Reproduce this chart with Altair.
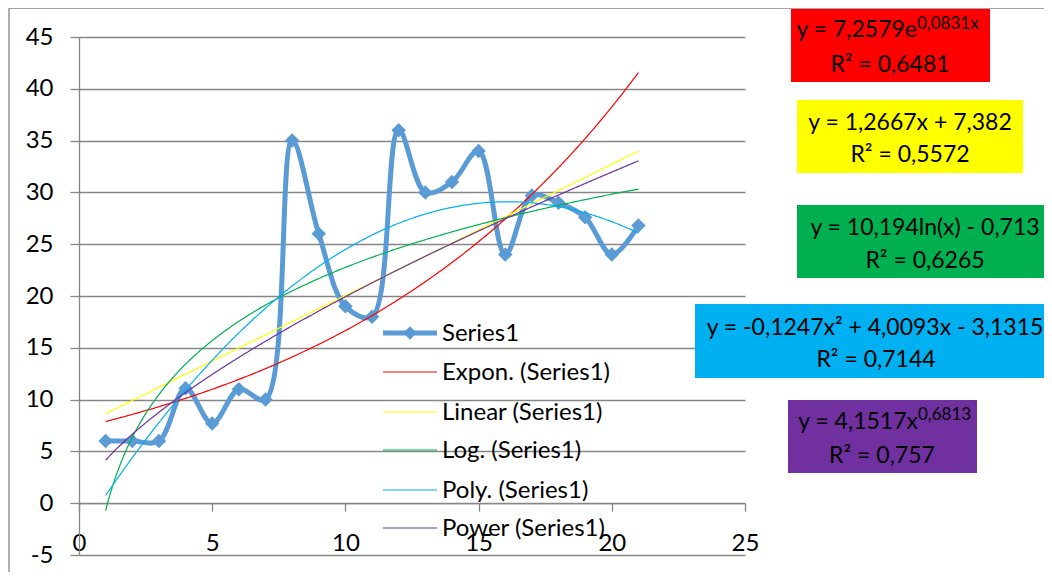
import altair as alt
import pandas as pd

# ---------------- data ----------------
X = list(range(1, 22))
Y = [6, 6, 6, 11.1, 7.7, 11, 10, 35, 26, 19, 18, 36, 30, 31, 34, 24, 29.7, 29, 27.6, 24, 26.8]
SERIES_NAME = "Series1"

TREND_NAMES = ["Expon. (Series1)", "Linear (Series1)", "Log. (Series1)", "Poly. (Series1)", "Power (Series1)"]
TREND_COLORS = ["#FF0000", "#FFFF00", "#00B050", "#00B0F0", "#7030A0"]
EXP_COEF = [7.2579, 0.0831]
LIN_COEF = [1.2667, 7.382]
LOG_COEF = [10.194, -0.713]
POLY_COEF = [-0.1247, 4.0093, -3.1315]
POW_COEF = [4.1517, 0.6813]

EQ_MAIN = ["y = 7,2579e", "y = 1,2667x + 7,382", "y = 10,194ln(x) - 0,713",
           "y = -0,1247x² + 4,0093x - 3,1315", "y = 4,1517x"]
EQ_SUP = ["0,0831x", "", "", "", "0,6813"]
EQ_R2 = ["R² = 0,6481", "R² = 0,5572", "R² = 0,6265", "R² = 0,7144", "R² = 0,757"]
BOX_COLORS = ["#FF0000", "#FFFF00", "#00B050", "#00B0F0", "#7030A0"]

X_TICKS = [0, 5, 10, 15, 20, 25]
Y_TICKS = [-5, 0, 5, 10, 15, 20, 25, 30, 35, 40, 45]

# ---------------- layout (pixels, relative to plot area) ----------------
W, H = 666, 518
FONT = "Lato"
GRAY = "#868686"
BLUE = "#5B9BD5"
BOX_RECT = [(712, -28, 911, 45), (718, 63, 944, 136), (718, 168, 985, 241),
            (616, 267, 985, 341), (709, 363, 898, 436)]
LINE1 = [("right", 838, 0), ("center", 831, 93), ("center", 846, 198),
         ("center", 796, 298), ("right", 839, 392)]
SUP_POS = [(838, -8), None, None, None, (839, 383)]
LINE2 = [(811, 35), (831, 125), (846, 231), (797, 330), (803, 426)]
LEG_Y = [296, 335, 375, 413, 453, 491]
LEG_X0, LEG_X1, LEG_TX = 304, 358, 363
AX_FS = 24
LEG_FS = 24
BOX_FS = 23
SUP_FS = 17

# ---------------- chart ----------------
xs = alt.Scale(domain=[0, 25], nice=False)
ys = alt.Scale(domain=[-5, 45], nice=False)
minus_fix = "datum.value < 0 ? '-' + abs(datum.value) : '' + datum.value"

x_axis = alt.Axis(values=X_TICKS, offset=-H * 5 / 50, grid=False, domainColor=GRAY,
                  domainWidth=1.3, tickColor=GRAY, tickWidth=1.3, tickSize=8,
                  labelFont=FONT, labelFontSize=AX_FS, labelColor="black", labelPadding=20,
                  labelFlush=False, labelExpr=minus_fix, title=None, zindex=0)
y_axis = alt.Axis(values=Y_TICKS, grid=True, gridColor=GRAY, gridWidth=1.3, domainColor=GRAY,
                  domainWidth=1.3, tickColor=GRAY, tickWidth=1.3, tickSize=9,
                  labelFont=FONT, labelFontSize=AX_FS, labelColor="black", labelPadding=17,
                  labelFlush=False, labelExpr=minus_fix, title=None, zindex=0)

df = pd.DataFrame({"x": X, "y": Y})

border = alt.Chart(pd.DataFrame({"a": [0]})).mark_rect(
    fill=None, stroke=GRAY, strokeWidth=1.3
).encode(x=alt.value(-70), x2=alt.value(1100), y=alt.value(-29), y2=alt.value(700))

series_line = alt.Chart(df).mark_line(
    interpolate="catmull-rom", color=BLUE, strokeWidth=5
).encode(x=alt.X("x:Q", scale=xs, axis=x_axis), y=alt.Y("y:Q", scale=ys, axis=y_axis))

series_pts = alt.Chart(df).mark_point(
    shape="diamond", filled=True, size=210, color=BLUE, opacity=1
).encode(x=alt.X("x:Q", scale=xs), y=alt.Y("y:Q", scale=ys))

exprs = [
    f"{EXP_COEF[0]}*exp({EXP_COEF[1]}*datum.x)",
    f"{LIN_COEF[0]}*datum.x+({LIN_COEF[1]})",
    f"{LOG_COEF[0]}*log(datum.x)+({LOG_COEF[1]})",
    f"({POLY_COEF[0]})*datum.x*datum.x+{POLY_COEF[1]}*datum.x+({POLY_COEF[2]})",
    f"{POW_COEF[0]}*pow(datum.x,{POW_COEF[1]})",
]
keys = [f"t{i}" for i in range(5)]
trend = alt.Chart(alt.sequence(1, 21.001, 0.05, as_="x")).transform_calculate(
    **{k: e for k, e in zip(keys, exprs)}
).transform_fold(keys, as_=["key", "val"]).mark_line(strokeWidth=1.2).encode(
    x=alt.X("x:Q", scale=xs),
    y=alt.Y("val:Q", scale=ys),
    color=alt.Color("key:N", scale=alt.Scale(domain=keys, range=TREND_COLORS), legend=None),
    detail="key:N",
)

# equation boxes
box_df = pd.DataFrame({
    "x0": [b[0] for b in BOX_RECT], "y0": [b[1] for b in BOX_RECT],
    "x1": [b[2] for b in BOX_RECT], "y1": [b[3] for b in BOX_RECT],
    "c": BOX_COLORS,
})
boxes = alt.Chart(box_df).mark_rect(opacity=1).encode(
    x=alt.X("x0:Q", scale=None, axis=None), x2="x1:Q",
    y=alt.Y("y0:Q", scale=None, axis=None), y2="y1:Q",
    color=alt.Color("c:N", scale=None, legend=None),
)


def text_layer(rows, align, size):
    d = pd.DataFrame(rows, columns=["px", "py", "t"])
    return alt.Chart(d).mark_text(
        align=align, baseline="alphabetic", font=FONT, fontSize=size, color="black"
    ).encode(x=alt.X("px:Q", scale=None, axis=None), y=alt.Y("py:Q", scale=None, axis=None),
             text="t:N")


rows_by_align = {"left": [], "center": [], "right": []}
for i in range(5):
    al, px, py = LINE1[i]
    rows_by_align[al].append((px, py, EQ_MAIN[i]))
    rows_by_align["center"].append((LINE2[i][0], LINE2[i][1], EQ_R2[i]))
sup_rows = [(SUP_POS[i][0], SUP_POS[i][1], EQ_SUP[i]) for i in range(5) if EQ_SUP[i]]
eq_texts = [text_layer(v, k, BOX_FS) for k, v in rows_by_align.items() if v]
eq_texts.append(text_layer(sup_rows, "left", SUP_FS))

# legend (drawn by hand, Excel style)
leg_names = [SERIES_NAME] + TREND_NAMES
leg_colors = [BLUE] + TREND_COLORS
leg_w = [5] + [1.2] * 5
leg_df = pd.DataFrame({"name": leg_names, "c": leg_colors, "w": leg_w,
                       "py": LEG_Y, "x0": [LEG_X0] * 6, "x1": [LEG_X1] * 6, "tx": [LEG_TX] * 6,
                       "mx": [(LEG_X0 + LEG_X1) / 2] * 6})
leg_lines = alt.Chart(leg_df).mark_rule().encode(
    x=alt.X("x0:Q", scale=None, axis=None), x2="x1:Q",
    y=alt.Y("py:Q", scale=None, axis=None),
    color=alt.Color("c:N", scale=None, legend=None),
    strokeWidth=alt.StrokeWidth("w:Q", scale=None, legend=None),
)
leg_marker = alt.Chart(leg_df.iloc[:1]).mark_point(
    shape="diamond", filled=True, size=180, color=BLUE, opacity=1
).encode(x=alt.X("mx:Q", scale=None, axis=None), y=alt.Y("py:Q", scale=None, axis=None))
leg_text = alt.Chart(leg_df).mark_text(
    align="left", baseline="middle", font=FONT, fontSize=LEG_FS, color="black", dy=1
).encode(x=alt.X("tx:Q", scale=None, axis=None), y=alt.Y("py:Q", scale=None, axis=None),
         text="name:N")

chart = alt.layer(
    border, series_line, series_pts, trend, boxes, *eq_texts, leg_lines, leg_marker, leg_text
).properties(
    width=W, height=H,
    padding={"left": 71, "top": 29, "right": 299, "bottom": 17},
    autosize="none",
).configure_view(stroke=None)

chart.save("out.html", embed_options={"renderer": "svg", "actions": False})
